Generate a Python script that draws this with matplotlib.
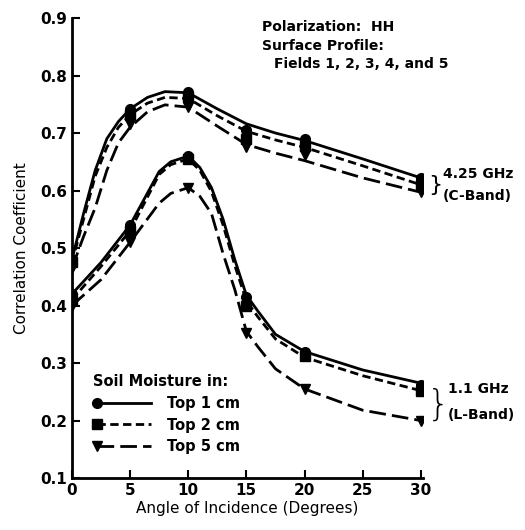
import numpy as np
import matplotlib
matplotlib.use('Agg')
import matplotlib.pyplot as plt
from matplotlib.lines import Line2D
from matplotlib.legend_handler import HandlerLine2D

plt.rc('font', family='DejaVu Sans', weight='bold', size=10)

# measured points (markers)
angles = [0, 5, 10, 15, 20, 30]
c_top1 = [0.480, 0.742, 0.772, 0.705, 0.690, 0.622]
c_top2 = [0.475, 0.732, 0.762, 0.690, 0.677, 0.610]
c_top5 = [0.465, 0.715, 0.745, 0.675, 0.662, 0.597]
l_top1 = [0.420, 0.540, 0.660, 0.415, 0.320, 0.262]
l_top2 = [0.410, 0.530, 0.655, 0.400, 0.312, 0.252]
l_top5 = [0.400, 0.510, 0.605, 0.352, 0.255, 0.200]

# fitted curves as drawn in the figure
c_curve_x = [0, 1, 2, 3, 4, 5, 6.5, 8, 10, 12.5, 15, 17.5, 20, 25, 30]
c_curve_top1 = [0.48, 0.56, 0.635, 0.69, 0.72, 0.742, 0.762, 0.772, 0.77, 0.742, 0.716, 0.700, 0.687, 0.655, 0.622]
c_curve_top2 = [0.475, 0.55, 0.625, 0.675, 0.71, 0.732, 0.752, 0.762, 0.76, 0.730, 0.703, 0.688, 0.675, 0.643, 0.610]
c_curve_top5 = [0.465, 0.52, 0.57, 0.635, 0.683, 0.71, 0.737, 0.749, 0.745, 0.712, 0.680, 0.665, 0.652, 0.622, 0.597]

l_curve_x = [0, 2.5, 5, 7.5, 8.5, 10, 11, 12, 13, 14, 15, 16, 17.5, 20, 25, 30]
l_curve_top1 = [0.42, 0.475, 0.54, 0.633, 0.65, 0.66, 0.64, 0.605, 0.55, 0.48, 0.418, 0.39, 0.35, 0.32, 0.288, 0.265]
l_curve_top2 = [0.41, 0.468, 0.53, 0.628, 0.645, 0.655, 0.635, 0.598, 0.54, 0.47, 0.408, 0.38, 0.342, 0.31, 0.278, 0.252]
l_curve_top5 = [0.40, 0.445, 0.51, 0.578, 0.595, 0.605, 0.59, 0.56, 0.49, 0.428, 0.355, 0.328, 0.29, 0.255, 0.218, 0.200]

xticks = [0, 5, 10, 15, 20, 25, 30]
yticks = [0.1, 0.2, 0.3, 0.4, 0.5, 0.6, 0.7, 0.8, 0.9]

styles = {
    'top1': dict(ls='-', marker='o'),
    'top2': dict(ls=(0, (3, 1.6)), marker='s'),
    'top5': dict(ls=(0, (6, 2.2)), marker='v'),
}


class FirstMarkerHandler(HandlerLine2D):
    # legend sample with the marker only at the left end
    def create_artists(self, *args, **kwargs):
        artists = super().create_artists(*args, **kwargs)
        for a in artists:
            a.set_markevery([0])
        return artists


fig = plt.figure(figsize=(5.25, 5.3), dpi=100)
ax = fig.add_axes([0.137, 0.098, 0.669, 0.868])

curves = [
    (c_curve_x, c_curve_top1, angles, c_top1, 'top1'),
    (c_curve_x, c_curve_top2, angles, c_top2, 'top2'),
    (c_curve_x, c_curve_top5, angles, c_top5, 'top5'),
    (l_curve_x, l_curve_top1, angles, l_top1, 'top1'),
    (l_curve_x, l_curve_top2, angles, l_top2, 'top2'),
    (l_curve_x, l_curve_top5, angles, l_top5, 'top5'),
]
for cx, cy, px, py, key in curves:
    ax.plot(cx, cy, color='black', lw=2.0, ls=styles[key]['ls'])
    ax.plot(px, py, ls='none', marker=styles[key]['marker'], color='black', ms=7)

ax.set_xlim(0, 30.2)
ax.set_ylim(0.1, 0.9)
ax.set_xticks(xticks)
ax.set_yticks(yticks)
ax.set_yticklabels(['%.1f' % v for v in yticks])
ax.tick_params(direction='in', length=6, width=1.5, labelsize=11)
for s in ['top', 'right']:
    ax.spines[s].set_visible(False)
for s in ['left', 'bottom']:
    ax.spines[s].set_linewidth(2)

ax.set_xlabel('Angle of Incidence (Degrees)', fontsize=11, labelpad=2)
ax.set_ylabel('Correlation Coefficient', fontsize=11, labelpad=8)

ax.text(0.54, 0.995, 'Polarization:  HH\nSurface Profile:', transform=ax.transAxes,
        fontsize=10, va='top', ha='left', linespacing=1.45)
ax.text(0.575, 0.915, 'Fields 1, 2, 3, 4, and 5', transform=ax.transAxes,
        fontsize=10, va='top', ha='left')

# band labels on the right
ax.text(30.6, 0.61, '}', fontsize=16, fontweight='normal', va='center', ha='left', clip_on=False)
ax.text(31.9, 0.628, '4.25 GHz', fontsize=10, va='center', ha='left', clip_on=False)
ax.text(31.9, 0.59, '(C-Band)', fontsize=10, va='center', ha='left', clip_on=False)
ax.text(30.5, 0.228, '}', fontsize=26, fontweight='light', va='center', ha='left', clip_on=False)
ax.text(32.3, 0.255, '1.1 GHz', fontsize=10, va='center', ha='left', clip_on=False)
ax.text(32.3, 0.21, '(L-Band)', fontsize=10, va='center', ha='left', clip_on=False)

handles = [Line2D([], [], color='black', lw=2.0, ls=styles[k]['ls'], marker=styles[k]['marker'],
                  ms=7) for k in ['top1', 'top2', 'top5']]
leg = ax.legend(handles, ['Top 1 cm', 'Top 2 cm', 'Top 5 cm'], title='Soil Moisture in:',
                loc='lower left', bbox_to_anchor=(0.06, 0.052), frameon=False,
                handlelength=4.3, numpoints=2, fontsize=10.5, labelspacing=0.45,
                handletextpad=0.8, borderaxespad=0, borderpad=0,
                handler_map={Line2D: FirstMarkerHandler()})
leg.get_title().set_fontsize(10.5)
leg.get_title().set_fontweight('bold')
leg._legend_box.align = 'left'

fig.savefig('out.png', dpi=100)
